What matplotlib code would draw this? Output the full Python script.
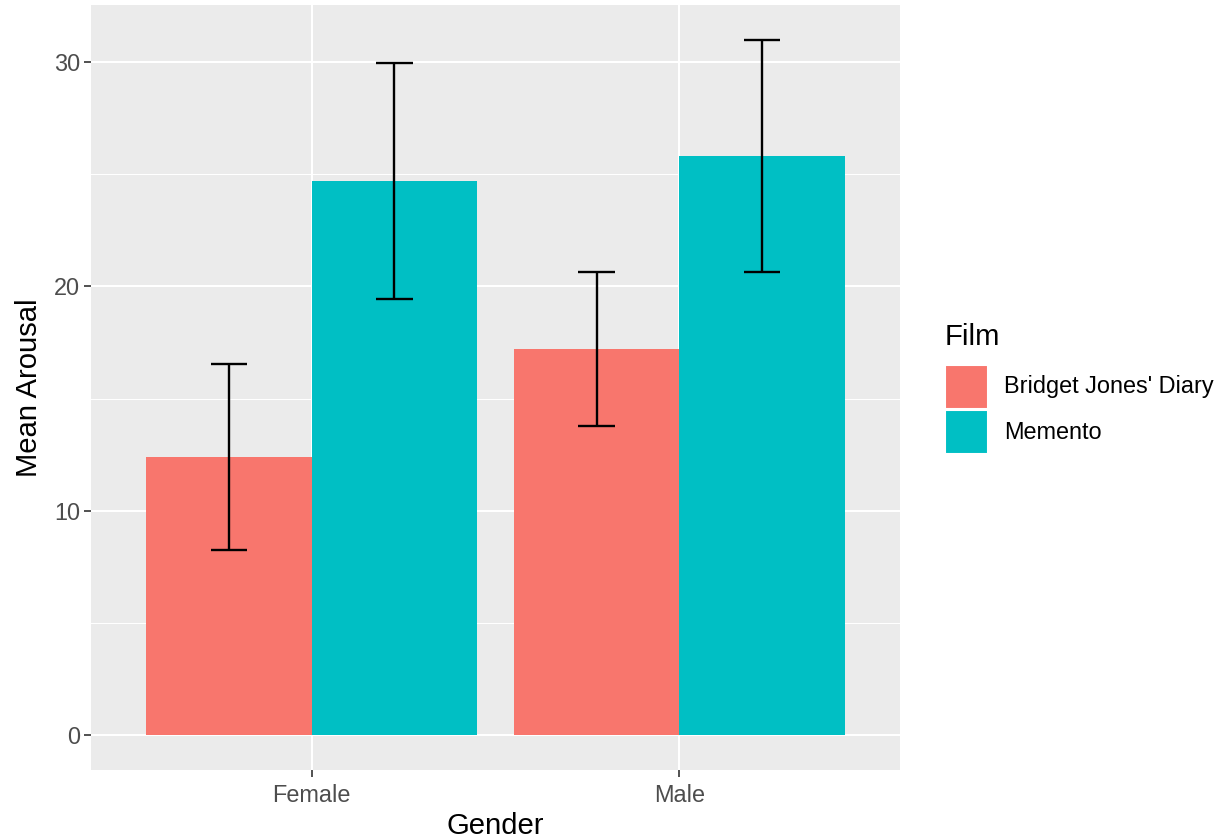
import matplotlib
matplotlib.use("Agg")
import matplotlib.pyplot as plt
from matplotlib.patches import Rectangle
import numpy as np

genders = ["Female", "Male"]
films = ["Bridget Jones' Diary", "Memento"]
means = {"Bridget Jones' Diary": [12.4, 17.2], "Memento": [24.7, 25.8]}
lower = {"Bridget Jones' Diary": [8.25, 13.78], "Memento": [19.44, 20.64]}
upper = {"Bridget Jones' Diary": [16.54, 20.64], "Memento": [29.96, 30.99]}
colors = ["#F8766D", "#00BFC4"]

W, H = 1227, 839
plt.rcParams['font.family'] = ['Liberation Sans', 'DejaVu Sans']
fig = plt.figure(figsize=(W/100, H/100), dpi=100)
ax = fig.add_axes([91/W, 1-770/H, (900-91)/W, (770-5)/H])
ax.set_facecolor("#EBEBEB")

x = np.arange(1, len(genders)+1)
bw = 0.45
for i, f in enumerate(films):
    pos = x + (i - 0.5) * bw
    ax.bar(pos, means[f], width=bw, color=colors[i], zorder=3, label=f)
    lo = np.array(lower[f]); hi = np.array(upper[f])
    ax.vlines(pos, lo, hi, color="black", lw=1.7, zorder=4)
    ax.hlines(lo, pos-0.05, pos+0.05, color="black", lw=1.7, zorder=4)
    ax.hlines(hi, pos-0.05, pos+0.05, color="black", lw=1.7, zorder=4)

ax.set_xlim(0.4, 2.6)
ax.set_ylim(-1.55, 32.54)
ax.set_yticks([0, 10, 20, 30])
ax.set_yticks([5, 15, 25], minor=True)
ax.set_xticks(x)
ax.set_xticklabels(genders)
ax.grid(which="major", color="white", lw=1.5, zorder=1)
ax.grid(which="minor", axis="y", color="white", lw=0.75, zorder=1)
ax.tick_params(axis="x", which="minor", bottom=False)
ax.tick_params(axis="y", which="minor", left=False)
ax.tick_params(which="major", length=5, width=1.2, color="#333333", labelcolor="#4D4D4D", labelsize=16.9, pad=3)
ax.tick_params(axis="x", pad=5)
for s in ax.spines.values():
    s.set_visible(False)
ax.set_axisbelow(True)
ax.set_xlabel("Gender", fontsize=21.1, labelpad=4)
ax.set_ylabel("Mean Arousal", fontsize=21.1, labelpad=8)

# legend drawn in figure pixel coordinates
def fx(px): return px / W
def fy(py): return 1 - py / H
fig.text(fx(945), fy(337), "Film", fontsize=21.1, ha="left", va="center")
key_tops = [365, 410]
for c, t, lab in zip(colors, key_tops, films):
    fig.patches.append(Rectangle((fx(945), fy(t+44)), 43/W, 44/H, transform=fig.transFigure,
                                 facecolor=c, edgecolor="white", lw=1.5))
    fig.text(fx(1004), fy(t+22), lab, fontsize=16.9, ha="left", va="center")

fig.savefig("out.png", dpi=100)
